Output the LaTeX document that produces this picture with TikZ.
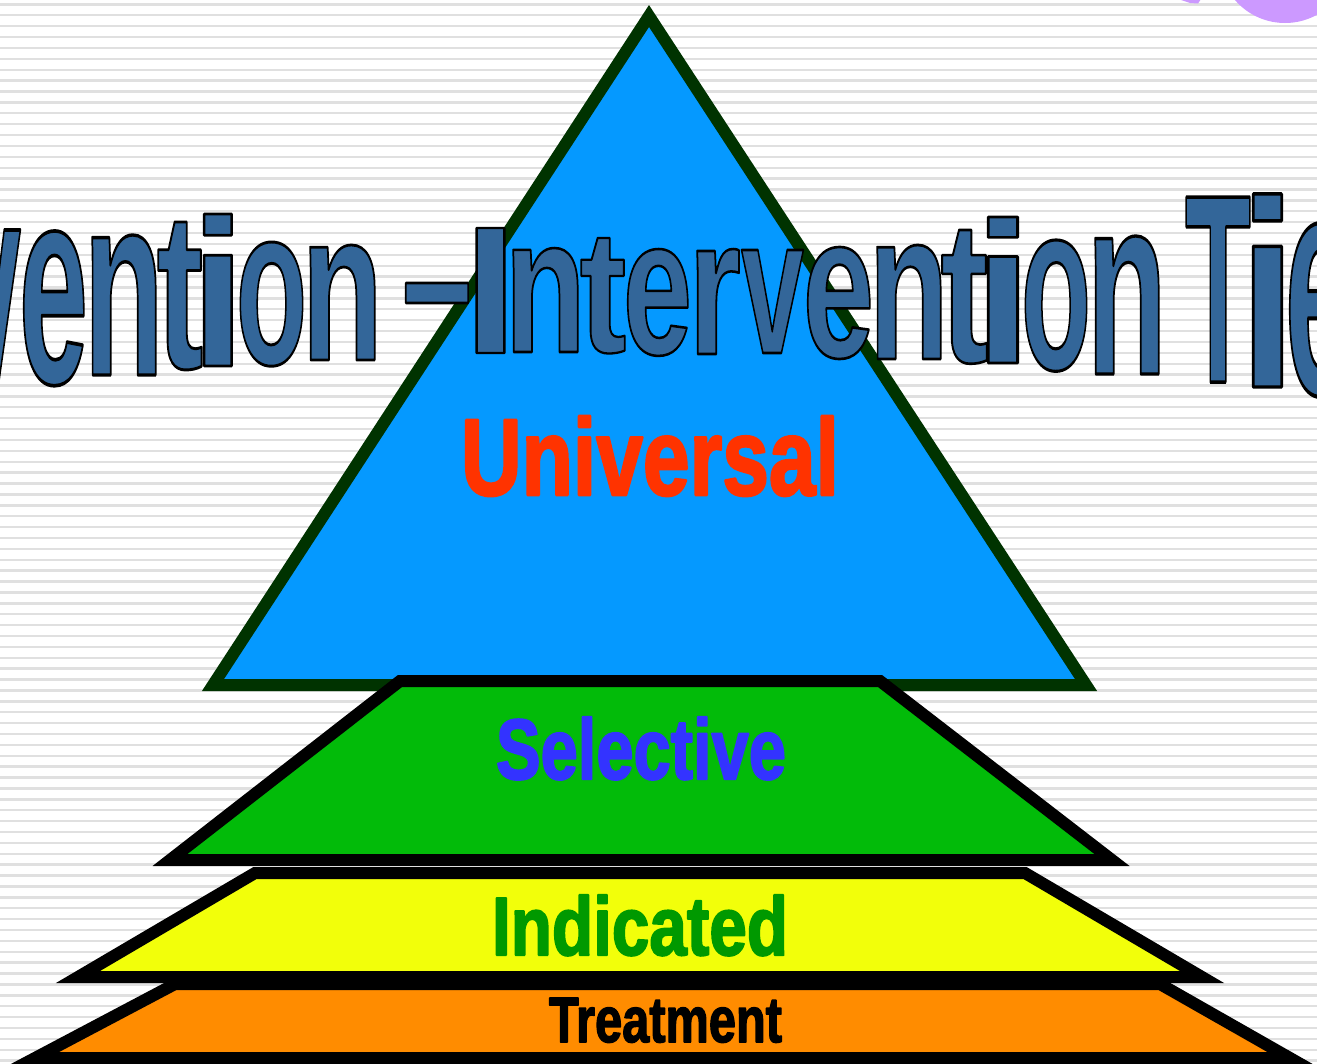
\documentclass[tikz,border=0pt]{standalone}
\usepackage{fontspec}
\setmainfont{Liberation Sans}
\usepackage{graphicx}
\definecolor{trifill}{RGB}{5,153,255}
\definecolor{tristroke}{RGB}{0,51,0}
\definecolor{greenfill}{RGB}{2,187,9}
\definecolor{yellowfill}{RGB}{242,255,10}
\definecolor{orangefill}{RGB}{255,140,0}
\definecolor{titleblue}{RGB}{51,102,153}
\definecolor{univred}{RGB}{255,51,0}
\definecolor{selblue}{RGB}{51,51,255}
\definecolor{indgreen}{RGB}{0,153,0}
\definecolor{lilac}{RGB}{204,153,255}
\definecolor{stripe}{RGB}{224,224,224}
\newcommand\OutlineOn{\special{pdf:literal direct 2 Tr 0 0 0 RG 1.3 w 1 j}}
\newcommand\BoldOn{\special{pdf:literal direct 2 Tr 2.5 w 1 j}}
\newcommand\RenderOff{\special{pdf:literal direct 0 Tr}}
% #1 name, #2 x centre, #3 baseline, #4 ink width, #5 ink height, #6 left bearing, #7 right bearing (em), #8 glyph
\newcommand\TitleLetter[8]{\node[titleletter] (#1) at (#2,#3) {\resizebox{#4pt}{#5pt}{\color{titleblue}\OutlineOn\kern-#6em #8\kern-#7em\RenderOff}};}
\begin{document}
\begin{tikzpicture}[x=1pt,y=-1pt,
  bgline/.style={draw=stripe, line width=2.4pt},
  tier/.style={line width=12pt, line join=miter, miter limit=20},
  titleletter/.style={anchor=base, inner sep=0pt, font=\bfseries\fontsize{100}{100}\selectfont},
  tierlabel/.style={anchor=base, inner sep=0pt, font=\bfseries\fontsize{100}{100}\selectfont}]
\path[use as bounding box] (0,0) rectangle (1317,1063);
\begin{scope}
\clip (0,0) rectangle (1317,1063);
\fill[white] (0,0) rectangle (1317,1063);
\foreach \i in {0,...,97} {
  \draw[bgline] (0,{4.4+\i*10.889}) -- (1317,{4.4+\i*10.889});
}
% top-right decorations
\fill[lilac] (1285,-43) circle (66);
\fill[lilac] (1178,-1) -- (1201,-1) -- (1198,3.5) -- (1190,3) -- cycle;
% tiers
\draw[tier, draw=tristroke, fill=trifill] (649,16) -- (1086,685) -- (213,685) -- cycle;
\draw[tier, draw=black, fill=greenfill] (400,681) -- (880,681) -- (1112,860) -- (170,860) -- cycle;
\draw[tier, draw=black, fill=yellowfill] (255,873) -- (1025,873) -- (1202,977) -- (78,977) -- cycle;
\draw[tier, draw=black, fill=orangefill] (175,984) -- (1160,984) -- (1290,1058) -- (35,1058) -- cycle;
% title (arched word art)
\TitleLetter{t1}{-10.5}{385}{61}{155}{0.008}{0.008}{v}
\TitleLetter{t2}{53.5}{383}{61}{152}{0.033}{0.033}{e}
\TitleLetter{t3}{123.5}{375}{63}{140}{0.065}{0.067}{n}
\TitleLetter{t4}{179.5}{368}{41}{146}{0.018}{0.024}{t}
\TitleLetter{t5}{218}{366}{28}{152}{0.069}{0.069}{i}
\TitleLetter{t6}{271.5}{364}{63}{122}{0.036}{0.036}{o}
\TitleLetter{t7}{342}{360}{64}{115}{0.065}{0.067}{n}
\TitleLetter{t8}{437}{347}{70}{64}{0}{0}{–}
\TitleLetter{t9}{490.5}{353}{29}{125}{0.064}{0.064}{I}
\TitleLetter{t10}{545}{352}{64}{104}{0.065}{0.067}{n}
\TitleLetter{t11}{602.5}{352}{41}{114}{0.018}{0.024}{t}
\TitleLetter{t12}{657.5}{354}{61}{105}{0.033}{0.033}{e}
\TitleLetter{t13}{718.5}{354}{43}{105}{0.065}{0.008}{r}
\TitleLetter{t14}{772.5}{353}{61}{103}{0.008}{0.008}{v}
\TitleLetter{t15}{838.5}{357}{63}{110}{0.033}{0.033}{e}
\TitleLetter{t16}{908.5}{359}{63}{114}{0.065}{0.067}{n}
\TitleLetter{t17}{964}{362}{42}{132}{0.018}{0.024}{t}
\TitleLetter{t18}{1003}{363}{30}{146}{0.069}{0.069}{i}
\TitleLetter{t19}{1056}{369}{62}{129}{0.036}{0.036}{o}
\TitleLetter{t20}{1126.5}{374}{63}{138}{0.065}{0.067}{n}
\TitleLetter{t21}{1218}{382}{62}{185}{0.019}{0.019}{T}
\TitleLetter{t22}{1267.5}{387}{29}{193}{0.069}{0.069}{i}
\TitleLetter{t23}{1320}{394}{62}{171}{0.033}{0.033}{e}
% tier labels
\node[tierlabel] (universal) at (650,495) {\resizebox{378pt}{79pt}{\color{univred}\BoldOn Universal\RenderOff}};
\node[tierlabel] (selective) at (641,779) {\resizebox{290pt}{62pt}{\color{selblue}\BoldOn Selective\RenderOff}};
\node[tierlabel] (indicated) at (640,955) {\resizebox{296pt}{60pt}{\color{indgreen}\BoldOn Indicated\RenderOff}};
\node[tierlabel] (treatment) at (665.5,1042) {\resizebox{233pt}{44pt}{\color{black}\BoldOn Treatment\RenderOff}};
\end{scope}
\end{tikzpicture}
\end{document}
